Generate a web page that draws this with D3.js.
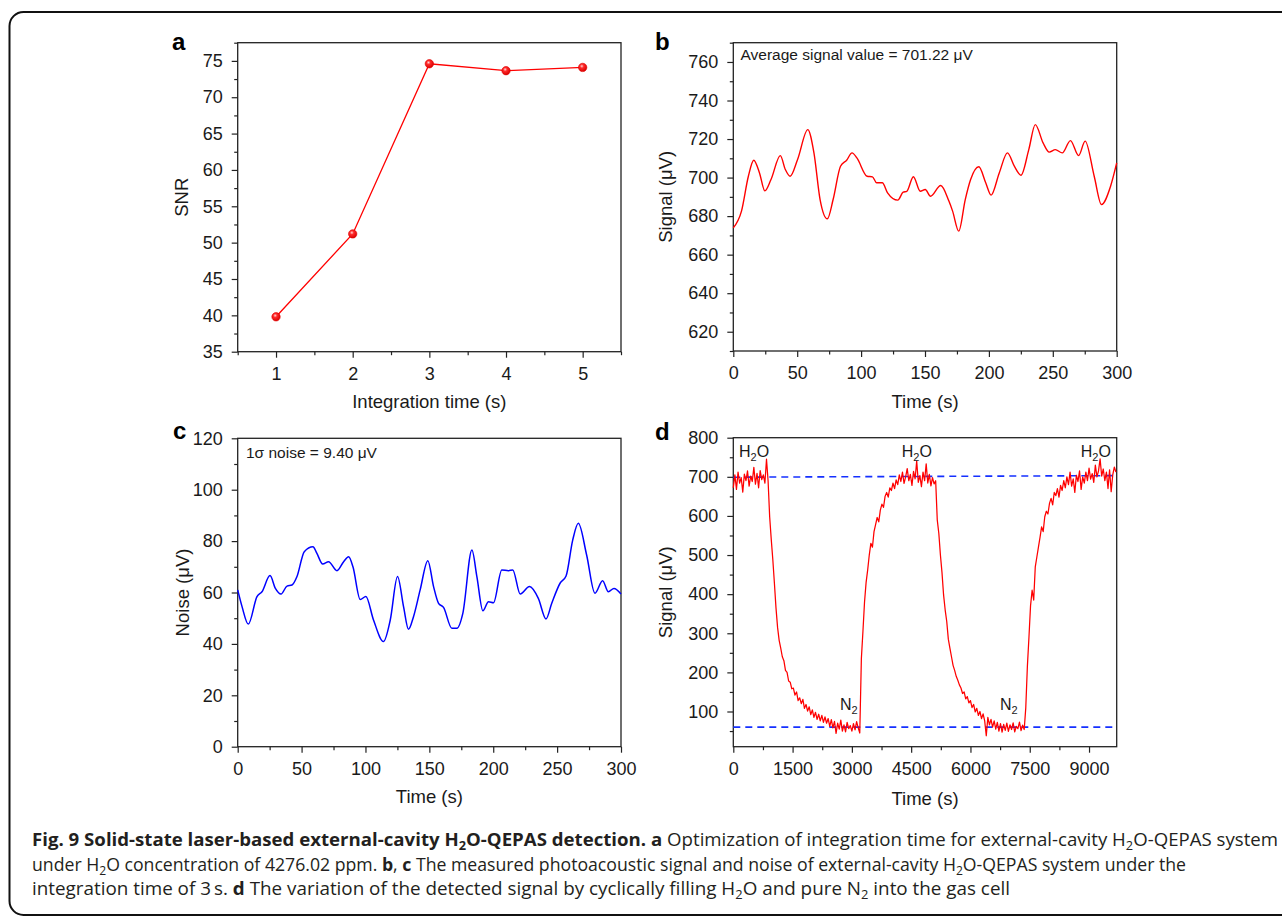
<!DOCTYPE html>
<html><head><meta charset="utf-8">
<script src="https://cdn.jsdelivr.net/npm/d3@7"></script>
<style>body{margin:0;background:#fff;}svg{display:block;}</style>
</head><body>
<script>
// ---------------- DATA ----------------
// (a) SNR vs integration time
const snrTimes = [1, 2, 3, 4, 5];
const snrValues = [39.8, 51.2, 74.6, 73.65, 74.1];
const aXTicks = [1, 2, 3, 4, 5];
const aYTicks = [35, 40, 45, 50, 55, 60, 65, 70, 75];

// (b) measured signal (uV) vs time (s)
const sigTimes = [0, 6.4, 11.8, 16, 20.5, 24.7, 29.5, 36.8, 40.7, 44.5, 50.3, 58.3, 63.1, 67.9, 73.6, 78.1, 83.9, 88.7, 92.9, 96.7, 104.7, 108.9, 112.1, 116.6, 120.7, 128.7, 132.9, 135.8, 140.9, 146.3, 150.2, 154.3, 162.3, 168.7, 171.6, 176.4, 181.5, 185.7, 192.1, 197.5, 201.7, 208.1, 214.5, 219.9, 225.1, 231.2, 236.3, 242.4, 247.2, 252, 257.4, 263.8, 270.2, 275.3, 282.4, 288.1, 295.2, 300];
const sigValues = [673.9, 682.6, 700.7, 709.0, 702.4, 693.1, 699.0, 711.4, 704.2, 700.7, 709.4, 724.9, 712.8, 688.6, 678.6, 688.6, 705.9, 709.0, 712.8, 710.2, 700.7, 700.4, 697.3, 697.3, 692.1, 688.3, 692.4, 692.9, 700.4, 692.9, 693.8, 690.3, 695.9, 687.8, 682.6, 672.2, 688.6, 699.0, 705.6, 697.3, 690.9, 702.4, 712.8, 705.9, 701.2, 714.5, 727.5, 718.0, 713.2, 714.5, 712.8, 719.2, 711.4, 718.9, 700.7, 686.0, 695.5, 707.6];
const bXTicks = [0, 50, 100, 150, 200, 250, 300];
const bYTicks = [620, 640, 660, 680, 700, 720, 740, 760];

// (c) noise (uV) vs time (s)
const noiseTimes = [0, 3.4, 8.3, 15.1, 19, 25.3, 29.5, 33.9, 38.6, 42.5, 46.4, 52.1, 58.9, 62, 66.5, 71.1, 77.7, 82.9, 86.8, 90.2, 95.9, 100.3, 106.3, 114.1, 119.4, 125.1, 129.8, 133.7, 137.6, 142.8, 148.8, 153.3, 157.2, 161.1, 167.6, 171.6, 176.2, 183.3, 187.2, 191.9, 196.3, 200.2, 206.7, 211.9, 215.3, 221.1, 228.4, 235.3, 241.3, 245.8, 252.3, 257, 262.2, 266.6, 273.1, 279.6, 285.6, 290.1, 294.5, 300];
const noiseValues = [61, 54.5, 47.7, 58.4, 60.3, 66.6, 61.6, 59.4, 62.5, 62.9, 66.2, 75.9, 77.8, 75.2, 71.1, 72, 68.5, 72, 73.9, 70, 57.3, 58.4, 49.3, 40.9, 49.3, 66.2, 54.5, 45.7, 50.6, 61, 72.4, 62.3, 55.8, 54.2, 46.1, 46.1, 51.9, 76.5, 66.2, 52.9, 56.4, 56, 68.8, 68.5, 68.8, 59.4, 62.3, 57.7, 49.7, 55.8, 63.6, 66.4, 80.4, 86.9, 74.6, 59.7, 64.6, 60.3, 61.6, 59.4];
const cXTicks = [0, 50, 100, 150, 200, 250, 300];
const cYTicks = [0, 20, 40, 60, 80, 100, 120];

// (d) cyclic H2O / N2 signal, one reading every 40 s
const cycleStep = 40;
const cycleValues = [
 672,705,668,712,684,698,661,707,690,715,676,702,688,724,681,709,672,716,693,705,684,745,690,
 598,540,488,428,365,315,282,262,240,230,205,200,178,175,158,160,142,150,128,135,120,131,108,118,101,112,92,104,85,98,80,93,76,90,72,86,70,82,62,79,58,75,44,70,55,78,50,66,48,72,56,64,50,69,53,74,58,45,
 235,305,380,430,462,500,530,520,560,578,596,585,615,630,622,650,660,648,672,665,684,670,692,680,705,688,712,683,700,721,690,706,678,714,695,740,686,703,675,712,690,733,684,706,677,698,682,690,
 590,555,500,455,398,360,330,285,262,240,218,205,190,180,168,160,146,150,132,138,122,128,110,118,99,108,90,100,82,94,76,38,85,66,80,60,76,55,72,50,69,47,67,52,70,49,66,54,71,48,62,56,73,51,65,54,
 110,215,290,370,410,385,470,495,520,545,572,560,598,612,605,632,645,628,660,652,670,648,678,665,690,672,700,680,712,676,695,660,704,688,715,668,700,684,712,690,722,694,708,686,730,700,715,746,702,720,690,712,670,718,662,705,725,712
];
const refLineTimes = [0, 9620];
const h2oLevel = [699, 703];
const n2Level = [60, 60];
const dXTicks = [0, 1500, 3000, 4500, 6000, 7500, 9000];
const dYTicks = [100, 200, 300, 400, 500, 600, 700, 800];
const gasLabels = ["H2O", "H2O", "H2O", "N2", "N2"];
const gasLabelTimes = [144, 4262, 8791, 2700, 6749];
const gasLabelValues = [750, 750, 750, 104, 104];

// ---------------- DRAWING ----------------
const FONT = '"Liberation Sans", Arial, Helvetica, sans-serif';
const INK = '#1a1a1a';
const svg = d3.select('body').append('svg')
  .attr('width', 1282).attr('height', 917)
  .style('font-family', FONT);

// outer frame
svg.append('rect').attr('x', 9.5).attr('y', 12).attr('width', 1300).attr('height', 903)
  .attr('rx', 14).attr('fill', 'none').attr('stroke', '#111').attr('stroke-width', 2);

const defs = svg.append('defs');
const grad = defs.append('radialGradient').attr('id', 'ball').attr('cx', 0.4).attr('cy', 0.35).attr('r', 0.65);
grad.append('stop').attr('offset', 0).attr('stop-color', '#ffd6d6');
grad.append('stop').attr('offset', 0.35).attr('stop-color', '#ff2a2a');
grad.append('stop').attr('offset', 1).attr('stop-color', '#d80000');

function panel(box, xd, yd) {
  return {
    box,
    x: d3.scaleLinear().domain(xd).range([box.l, box.r]),
    y: d3.scaleLinear().domain(yd).range([box.b, box.t])
  };
}
function within(arr, d) { return arr.filter(v => v >= d[0] - 1e-9 && v <= d[1] + 1e-9); }

function axes(p, xMaj, yMaj, xMinStep, yMinStep) {
  const g = svg.append('g');
  const xd = p.x.domain(), yd = p.y.domain();
  const xMin = within(d3.range(xMaj[0] - xMinStep, xd[1] + xMinStep, xMinStep * 2), xd);
  const yMin = within(d3.range(yMaj[0] - yMinStep, yd[1] + yMinStep, yMinStep * 2), yd);
  const put = (gen, tr) => g.append('g').attr('transform', tr).call(gen).call(s => s.select('.domain').remove());
  put(d3.axisBottom(p.x).tickValues(xMin).tickSize(3.5).tickFormat(''), `translate(0,${p.box.b})`);
  put(d3.axisBottom(p.x).tickValues(xMaj).tickSize(6).tickPadding(9.5).tickFormat(d3.format('d')), `translate(0,${p.box.b})`);
  put(d3.axisLeft(p.y).tickValues(yMin).tickSize(3.5).tickFormat(''), `translate(${p.box.l},0)`);
  put(d3.axisLeft(p.y).tickValues(yMaj).tickSize(6).tickPadding(9).tickFormat(d3.format('d')), `translate(${p.box.l},0)`);
  g.selectAll('text').attr('font-size', 18).attr('font-family', FONT).attr('fill', INK);
  g.selectAll('line').attr('stroke', '#222').attr('stroke-width', 1.2);
  g.append('rect').attr('x', p.box.l).attr('y', p.box.t)
    .attr('width', p.box.r - p.box.l).attr('height', p.box.b - p.box.t)
    .attr('fill', 'none').attr('stroke', '#222').attr('stroke-width', 1.3);
  return g;
}
function titles(p, xt, yt, xBase, yBase) {
  svg.append('text').attr('x', (p.box.l + p.box.r) / 2).attr('y', xBase)
    .attr('text-anchor', 'middle').attr('font-size', 18.5).attr('fill', INK).text(xt);
  svg.append('text').attr('transform', `translate(${yBase},${(p.box.t + p.box.b) / 2}) rotate(-90)`)
    .attr('text-anchor', 'middle').attr('font-size', 18.5).attr('fill', INK).text(yt);
}
function letter(ch, x, y) {
  svg.append('text').attr('x', x).attr('y', y).attr('font-size', 24).attr('font-weight', 'bold')
    .attr('fill', '#000').text(ch);
}

// ---- panel a ----
const pa = panel({l: 237.7, r: 621, t: 42.7, b: 351.7}, [0.5, 5.5], [35, 77.5]);
axes(pa, aXTicks, aYTicks, 0.5, 2.5);
const aData = snrTimes.map((t, i) => [t, snrValues[i]]);
svg.append('path').datum(aData)
  .attr('d', d3.line().x(d => pa.x(d[0])).y(d => pa.y(d[1])))
  .attr('fill', 'none').attr('stroke', '#ff0000').attr('stroke-width', 1.3);
svg.append('g').selectAll('circle').data(aData).join('circle')
  .attr('cx', d => pa.x(d[0])).attr('cy', d => pa.y(d[1])).attr('r', 4.2)
  .attr('fill', 'url(#ball)').attr('stroke', '#e00000').attr('stroke-width', 0.6);
titles(pa, 'Integration time (s)', 'SNR', 407.5, 188);
letter('a', 172, 50);

// ---- panel b ----
const pb = panel({l: 733.3, r: 1116.7, t: 42.7, b: 351}, [0, 300], [610, 770]);
axes(pb, bXTicks, bYTicks, 25, 10);
svg.append('path').datum(sigTimes.map((t, i) => [t, sigValues[i]]))
  .attr('d', d3.line().curve(d3.curveMonotoneX).x(d => pb.x(d[0])).y(d => pb.y(d[1])))
  .attr('fill', 'none').attr('stroke', '#ff0000').attr('stroke-width', 1.4);
svg.append('text').attr('x', 740.5).attr('y', 60).attr('font-size', 15.5).attr('fill', INK)
  .text('Average signal value = 701.22 \u03bcV');
titles(pb, 'Time (s)', 'Signal (\u03bcV)', 407.5, 671.5);
letter('b', 655, 50);

// ---- panel c ----
const pc = panel({l: 237.7, r: 621, t: 438.3, b: 746.7}, [0, 300], [0, 120]);
axes(pc, cXTicks, cYTicks, 25, 10);
svg.append('path').datum(noiseTimes.map((t, i) => [t, noiseValues[i]]))
  .attr('d', d3.line().curve(d3.curveMonotoneX).x(d => pc.x(d[0])).y(d => pc.y(d[1])))
  .attr('fill', 'none').attr('stroke', '#0000ff').attr('stroke-width', 1.5);
svg.append('text').attr('x', 246).attr('y', 458).attr('font-size', 15.5).attr('fill', INK)
  .text('1\u03c3 noise = 9.40 \u03bcV');
titles(pc, 'Time (s)', 'Noise (\u03bcV)', 803, 189);
letter('c', 173, 439);

// ---- panel d ----
const pd = panel({l: 733.3, r: 1116.7, t: 437.7, b: 746.7}, [0, 9700], [10, 800]);
axes(pd, dXTicks, dYTicks, 750, 50);
const refLine = d3.line().x(d => pd.x(d[0])).y(d => pd.y(d[1]));
[h2oLevel, n2Level].forEach(lv => {
  svg.append('path').datum(refLineTimes.map((t, i) => [t, lv[i]]))
    .attr('d', refLine).attr('fill', 'none').attr('stroke', '#1530ff')
    .attr('stroke-width', 1.6).attr('stroke-dasharray', '7,5');
});
svg.append('path').datum(cycleValues.map((v, i) => [i * cycleStep, v]))
  .attr('d', d3.line().x(d => pd.x(d[0])).y(d => pd.y(d[1])))
  .attr('fill', 'none').attr('stroke', '#ff0000').attr('stroke-width', 1.25).attr('stroke-linejoin', 'round');
gasLabels.forEach((lab, i) => {
  const t = svg.append('text').attr('x', pd.x(gasLabelTimes[i])).attr('y', pd.y(gasLabelValues[i]))
    .attr('font-size', 16).attr('fill', INK);
  t.append('tspan').text(lab[0]);
  t.append('tspan').attr('font-size', 11).attr('dy', 4).text(lab[1]);
  if (lab.length > 2) t.append('tspan').attr('dy', -4).text(lab.slice(2));
});
titles(pd, 'Time (s)', 'Signal (\u03bcV)', 805, 671.5);
letter('d', 655, 440);

// ---------------- CAPTION ----------------
const captionLines = [
  [["Fig. 9 Solid-state laser-based external-cavity H", "b"], ["2", "bs"], ["O-QEPAS detection.", "b"], [" ", ""], ["a", "b"],
   [" Optimization of integration time for external-cavity H", ""], ["2", "s"], ["O-QEPAS system", ""]],
  [["under H", ""], ["2", "s"], ["O concentration of 4276.02 ppm. ", ""], ["b", "b"], [", ", ""], ["c", "b"],
   [" The measured photoacoustic signal and noise of external-cavity H", ""], ["2", "s"], ["O-QEPAS system under the", ""]],
  [["integration time of 3\u2009s. ", ""], ["d", "b"], [" The variation of the detected signal by cyclically filling H", ""], ["2", "s"],
   ["O and pure N", ""], ["2", "s"], [" into the gas cell", ""]]
];
const captionBase = [846, 870.5, 895];
const captionWidths = [1246, 1154, 978];
captionLines.forEach((segs, li) => {
  const tx = svg.append('text').attr('x', 32).attr('y', captionBase[li])
    .attr('font-family', '"Open Sans", "Noto Sans", sans-serif').attr('font-size', 17.5).attr('fill', '#231f20');
  let prevSub = false;
  segs.forEach(([s, f]) => {
    const sub = f.includes('s');
    const ts = tx.append('tspan').text(s).attr('font-weight', f.includes('b') ? 'bold' : 'normal');
    if (sub) ts.attr('font-size', 12).attr('dy', prevSub ? 0 : 4);
    else if (prevSub) ts.attr('dy', -4);
    prevSub = sub;
  });
  const natural = tx.node().getComputedTextLength();
  const target = captionWidths[li];
  if (Math.abs(natural - target) > 2) {
    tx.attr('textLength', target).attr('lengthAdjust', 'spacingAndGlyphs');
  }
});
</script>
</body></html>
